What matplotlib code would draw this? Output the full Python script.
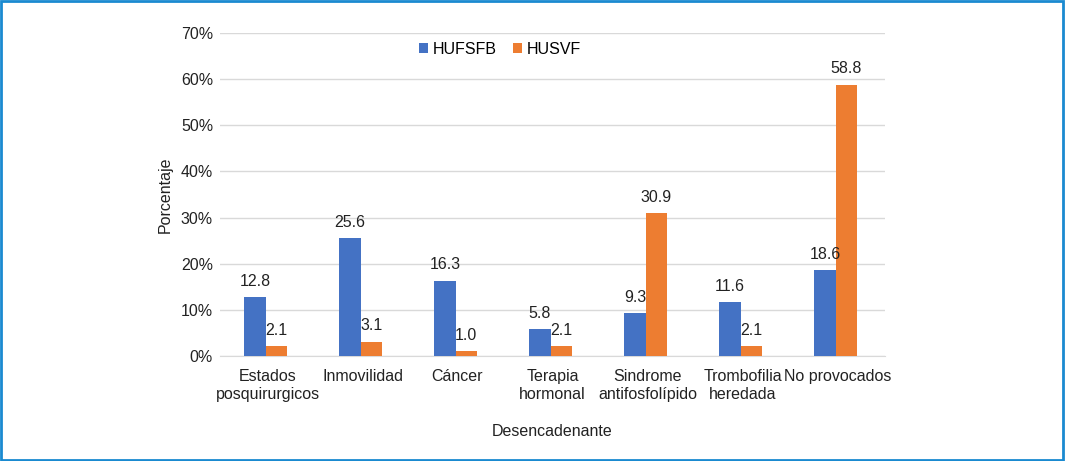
import matplotlib.pyplot as plt
import numpy as np
from matplotlib.patches import Rectangle

plt.rcParams['font.family'] = ['Liberation Sans', 'DejaVu Sans']

categories = ['Estados\nposquirurgicos', 'Inmovilidad', 'Cáncer', 'Terapia\nhormonal',
              'Sindrome\nantifosfolípido', 'Trombofilia\nheredada', 'No provocados']
hufsfb = [12.8, 25.6, 16.3, 5.8, 9.3, 11.6, 18.6]
husvf = [2.1, 3.1, 1.0, 2.1, 30.9, 2.1, 58.8]
yticks = [0, 10, 20, 30, 40, 50, 60, 70]

fig = plt.figure(figsize=(10.65, 4.61), dpi=100)
ax = fig.add_axes([220 / 1065, 1 - 356 / 461, 665 / 1065, 323 / 461])

x = np.arange(len(categories))
w = 0.225
b1 = ax.bar(x - w / 2 - 0.02, hufsfb, w, color='#4472C4', label='HUFSFB', zorder=3)
b2 = ax.bar(x + w / 2 - 0.02, husvf, w, color='#ED7D31', label='HUSVF', zorder=3)

for bars, vals in ((b1, hufsfb), (b2, husvf)):
    for r, v in zip(bars, vals):
        ax.annotate('%.1f' % v, (r.get_x() + r.get_width() / 2, r.get_height()),
                    xytext=(0, 6), textcoords='offset points', ha='center', va='bottom',
                    fontsize=11.5, color='#222222')

ax.set_xlim(-0.5, len(categories) - 0.5)
ax.set_ylim(0, 70)
ax.set_yticks(yticks)
ax.set_yticklabels(['%d%%' % t for t in yticks])
ax.set_xticks(x)
ax.set_xticklabels(categories, linespacing=1.3)
ax.tick_params(axis='both', length=0, labelsize=11.5, colors='#222222')
ax.tick_params(axis='x', pad=9)
ax.tick_params(axis='y', pad=5)
ax.grid(axis='y', color='#d9d9d9', linewidth=1, zorder=0)
for s in ('top', 'right', 'left'):
    ax.spines[s].set_visible(False)
ax.spines['bottom'].set_color('#d9d9d9')

ax.set_ylabel('Porcentaje', fontsize=11.5, color='#222222', labelpad=6)
ax.set_xlabel('Desencadenante', fontsize=11.5, color='#222222', labelpad=16)

fig.legend(loc='center', bbox_to_anchor=(500 / 1065, 1 - 49 / 461), ncol=2, frameon=False,
           fontsize=11.5, handlelength=0.6, handleheight=0.6, handletextpad=0.3, columnspacing=1.0)

fig.patches.append(Rectangle((0.001, 0.002), 0.997, 0.995, transform=fig.transFigure,
                             fill=False, edgecolor='#1a8ad0', linewidth=2))

fig.savefig('out.png', dpi=100)
